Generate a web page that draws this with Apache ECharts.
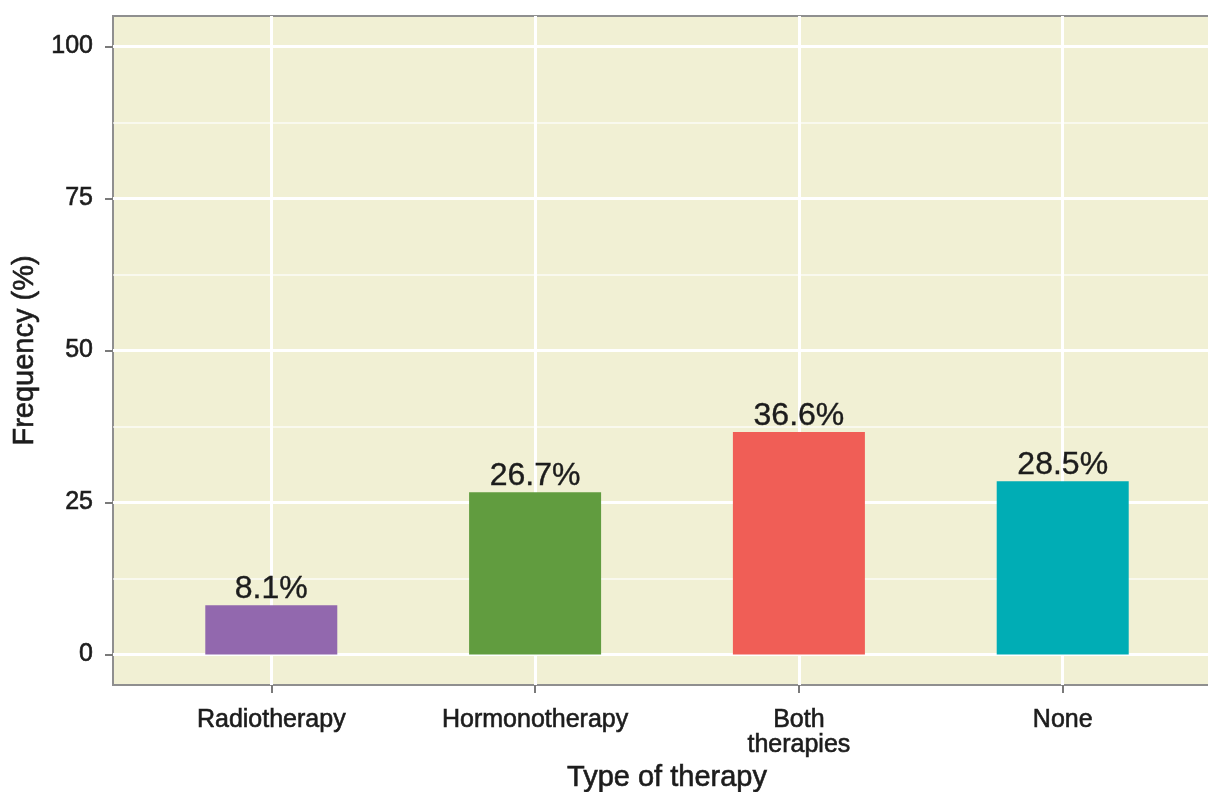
<!DOCTYPE html>
<html>
<head>
<meta charset="utf-8">
<script src="https://cdn.jsdelivr.net/npm/echarts@6/dist/echarts.min.js"></script>
<style>
html,body{margin:0;padding:0;background:#fff;overflow:hidden;}
#chart{width:1221px;height:792px;}
</style>
</head>
<body>
<div id="chart"></div>
<script>
const categories = ['Radiotherapy', 'Hormonotherapy', 'Both\ntherapies', 'None'];
const values = [8.1, 26.7, 36.6, 28.5];
const barColors = ['#9268AE', '#619C3F', '#F05E56', '#00ADB5'];
const yTicks = [0, 25, 50, 75, 100];
const yMinorLines = [12.5, 37.5, 62.5, 87.5];
const xPositions = [0, 1, 2, 3];

const FONT = '"Liberation Sans", Arial, sans-serif';
const TXT = '#1c1c1c';
const thick = {textBorderColor: TXT, textBorderWidth: 0.6};
const chart = echarts.init(document.getElementById('chart'), null, {renderer: 'canvas'});

chart.setOption({
  animation: false,
  backgroundColor: '#ffffff',
  grid: {
    left: 113, right: 0, top: 16, bottom: 107,
    outerBoundsMode: 'none',
    containLabel: false,
    show: true,
    backgroundColor: '#F1F0D4',
    borderColor: '#8f8f8f',
    borderWidth: 2
  },
  xAxis: {
    type: 'value',
    min: -0.6,
    max: 3.6,
    name: 'Type of therapy',
    nameLocation: 'middle',
    nameGap: 77,
    nameTextStyle: Object.assign({fontFamily: FONT, fontSize: 29, color: TXT}, thick),
    axisLine: {show: false, onZero: false},
    axisTick: {show: true, customValues: xPositions, length: 8, lineStyle: {color: '#7a7a7a', width: 2}},
    axisLabel: Object.assign({
      customValues: xPositions,
      formatter: v => categories[Math.round(v)],
      fontFamily: FONT, fontSize: 25, color: TXT,
      margin: 23, lineHeight: 25
    }, thick),
    splitLine: {show: true, lineStyle: {color: '#ffffff', width: 3}}
  },
  yAxis: {
    type: 'value',
    min: -5,
    max: 105,
    name: 'Frequency (%)',
    nameLocation: 'middle',
    nameGap: 72,
    nameTextStyle: Object.assign({fontFamily: FONT, fontSize: 29, color: TXT}, thick),
    axisLine: {show: false, onZero: false},
    axisTick: {show: true, customValues: yTicks, length: 8, lineStyle: {color: '#7a7a7a', width: 2}},
    axisLabel: Object.assign({
      customValues: yTicks,
      fontFamily: FONT, fontSize: 25, color: TXT, margin: 20
    }, thick),
    splitLine: {show: true, lineStyle: {color: '#ffffff', width: 3}}
  },
  series: [{
    type: 'bar',
    barWidth: 132,
    z: 3,
    data: values.map((v, i) => ({value: [xPositions[i], v], itemStyle: {color: barColors[i]}})),
    label: Object.assign({
      show: true,
      position: 'top',
      distance: 0,
      formatter: p => values[p.dataIndex] + '%',
      fontFamily: FONT, fontSize: 32, color: TXT
    }, {textBorderColor: TXT, textBorderWidth: 0.4}),
    markLine: {
      silent: true,
      symbol: 'none',
      z: 1,
      label: {show: false},
      lineStyle: {color: '#ffffff', width: 1.5, type: 'solid', opacity: 0.8},
      data: yMinorLines.map(y => ({yAxis: y}))
    }
  }]
});
</script>
</body>
</html>
